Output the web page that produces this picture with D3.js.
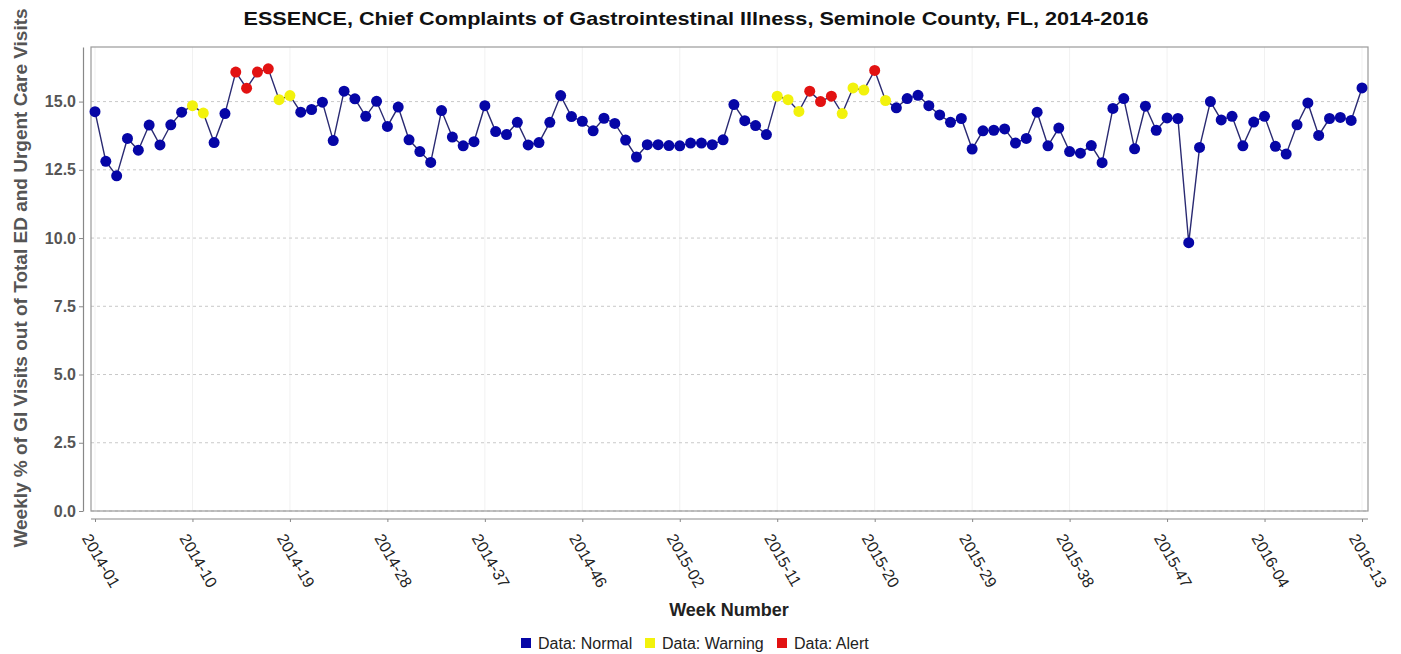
<!DOCTYPE html>
<html>
<head>
<meta charset="utf-8">
<script src="https://cdn.jsdelivr.net/npm/d3@7"></script>
<style>
  body { margin: 0; background: #fff; }
  svg { display: block; font-family: "Liberation Sans", Arial, sans-serif; }
</style>
</head>
<body>
<svg id="chart" width="1401" height="654"></svg>
<script>
// weeks per year shown on the chart (2014 has 53 reporting weeks here)
const years = [2014, 2015, 2016];
const weeksInYear = [53, 52, 13];

// weekly % of GI visits
const values = [
  14.63, 12.81, 12.28, 13.65, 13.22, 14.14, 13.41, 14.15, 14.61, 14.85,
  14.58, 13.50, 14.56, 16.08, 15.49, 16.08, 16.20, 15.07, 15.22, 14.61,
  14.71, 14.98, 13.57, 15.38, 15.10, 14.46, 15.01, 14.09, 14.80, 13.60,
  13.17, 12.77, 14.67, 13.70, 13.38, 13.53, 14.85, 13.90, 13.79, 14.24,
  13.41, 13.50, 14.24, 15.22, 14.45, 14.28, 13.93, 14.39, 14.20, 13.59,
  12.97, 13.42, 13.42, 13.39, 13.38, 13.48, 13.48, 13.42, 13.60, 14.89,
  14.30, 14.12, 13.79, 15.20, 15.07, 14.64, 15.38, 15.00, 15.20, 14.56,
  15.50, 15.42, 16.14, 15.04, 14.77, 15.11, 15.23, 14.85, 14.51, 14.24,
  14.38, 13.26, 13.93, 13.95, 14.00, 13.48, 13.65, 14.61, 13.38, 14.03,
  13.17, 13.11, 13.39, 12.76, 14.75, 15.11, 13.27, 14.83, 13.95, 14.40,
  14.38, 9.83, 13.32, 15.00, 14.33, 14.46, 13.38, 14.25, 14.46, 13.36,
  13.08, 14.15, 14.95, 13.76, 14.38, 14.42, 14.31, 15.50
];

// points flagged by the detection algorithm (index into values)
const warningIdx = [9, 10, 17, 18, 63, 64, 65, 69, 70, 71, 73];
const alertIdx = [13, 14, 15, 16, 66, 67, 68, 72];

const tickLabels = ['2014-01', '2014-10', '2014-19', '2014-28', '2014-37', '2014-46', '2015-02',
  '2015-11', '2015-20', '2015-29', '2015-38', '2015-47', '2016-04', '2016-13'];
const yTicks = [0, 2.5, 5, 7.5, 10, 12.5, 15];

const legendItems = ['Normal', 'Warning', 'Alert'];
const colors = { Normal: '#0606a6', Warning: '#f2f20c', Alert: '#e21212' };

const weeks = [];
years.forEach((yr, i) => {
  for (let w = 1; w <= weeksInYear[i]; w++) weeks.push(yr + '-' + String(w).padStart(2, '0'));
});

const data = values.map((v, i) => ({
  week: weeks[i],
  value: v,
  status: alertIdx.includes(i) ? 'Alert' : warningIdx.includes(i) ? 'Warning' : 'Normal'
}));

const svg = d3.select('#chart');
const plot = { left: 91, right: 1368, top: 47, bottom: 511 };

const x = d3.scalePoint().domain(weeks).range([95, 1362]);
const y = d3.scaleLinear().domain([0, 17]).range([plot.bottom, plot.top]);

// title
svg.append('text')
  .attr('x', 696).attr('y', 25)
  .attr('text-anchor', 'middle')
  .attr('textLength', 905).attr('lengthAdjust', 'spacingAndGlyphs')
  .style('font-size', '19px').style('font-weight', 'bold').style('fill', '#111')
  .text('ESSENCE, Chief Complaints of Gastrointestinal Illness, Seminole County, FL, 2014-2016');

// faint vertical grid at tick weeks
svg.append('g').selectAll('line')
  .data(tickLabels)
  .enter().append('line')
  .attr('x1', d => x(d)).attr('x2', d => x(d))
  .attr('y1', plot.top).attr('y2', plot.bottom)
  .attr('stroke', '#f1f1f1').attr('stroke-width', 1);

// horizontal dashed grid
svg.append('g').selectAll('line')
  .data(yTicks)
  .enter().append('line')
  .attr('x1', plot.left).attr('x2', plot.right)
  .attr('y1', d => y(d)).attr('y2', d => y(d))
  .attr('stroke', '#c9c9c9').attr('stroke-width', 1)
  .attr('stroke-dasharray', '3,3');

// plot frame
svg.append('rect')
  .attr('x', plot.left).attr('y', plot.top)
  .attr('width', plot.right - plot.left).attr('height', plot.bottom - plot.top)
  .attr('fill', 'none').attr('stroke', '#9a9a9a').attr('stroke-width', 1.2);

// y axis (offset to the left of the plot)
const yAxis = svg.append('g')
  .attr('transform', 'translate(83,0)')
  .call(d3.axisLeft(y).tickValues(yTicks).tickFormat(d3.format('.1f')).tickSize(4).tickSizeOuter(0));
yAxis.select('.domain').attr('stroke', '#888').attr('stroke-width', 1.2);
yAxis.selectAll('.tick line').attr('stroke', '#888');
yAxis.selectAll('.tick text')
  .style('font-size', '16px').style('font-weight', 'bold').style('fill', '#555')
  .style('font-family', '"Liberation Sans", Arial, sans-serif');

// x axis (offset below the plot)
const xAxis = svg.append('g')
  .attr('transform', 'translate(0,519)')
  .call(d3.axisBottom(x).tickValues(tickLabels).tickSize(3).tickSizeOuter(0));
xAxis.select('.domain')
  .attr('d', `M${plot.left},0H${plot.right}`)
  .attr('stroke', '#888').attr('stroke-width', 1.2);
xAxis.selectAll('.tick line').attr('stroke', '#888');
xAxis.selectAll('.tick text')
  .attr('y', 0).attr('dy', 0)
  .attr('text-anchor', 'start')
  .attr('transform', 'translate(-14,19) rotate(60)')
  .style('font-size', '16px').style('fill', '#222')
  .style('font-family', '"Liberation Sans", Arial, sans-serif');

// axis titles
svg.append('text')
  .attr('transform', 'translate(27,278) rotate(-90)')
  .attr('text-anchor', 'middle')
  .style('font-size', '19px').style('font-weight', 'bold').style('fill', '#555')
  .text('Weekly % of GI Visits out of Total ED and Urgent Care Visits');

svg.append('text')
  .attr('x', 729).attr('y', 616)
  .attr('text-anchor', 'middle')
  .style('font-size', '18px').style('font-weight', 'bold').style('fill', '#222')
  .text('Week Number');

// series line
const line = d3.line().x(d => x(d.week)).y(d => y(d.value));
svg.append('path')
  .datum(data)
  .attr('d', line)
  .attr('fill', 'none')
  .attr('stroke', '#2a2a72')
  .attr('stroke-width', 1.4);

// points
svg.append('g').selectAll('circle')
  .data(data)
  .enter().append('circle')
  .attr('cx', d => x(d.week))
  .attr('cy', d => y(d.value))
  .attr('r', 5.5)
  .attr('fill', d => colors[d.status]);

// legend
const legendX = [521, 645, 777];
const legend = svg.append('g').selectAll('g')
  .data(legendItems)
  .enter().append('g')
  .attr('transform', (d, i) => `translate(${legendX[i]},638)`);
legend.append('rect')
  .attr('width', 10).attr('height', 10)
  .attr('fill', d => colors[d]);
legend.append('text')
  .attr('x', 17).attr('y', 11)
  .style('font-size', '16px').style('fill', '#222')
  .text(d => 'Data: ' + d);
</script>
</body>
</html>
